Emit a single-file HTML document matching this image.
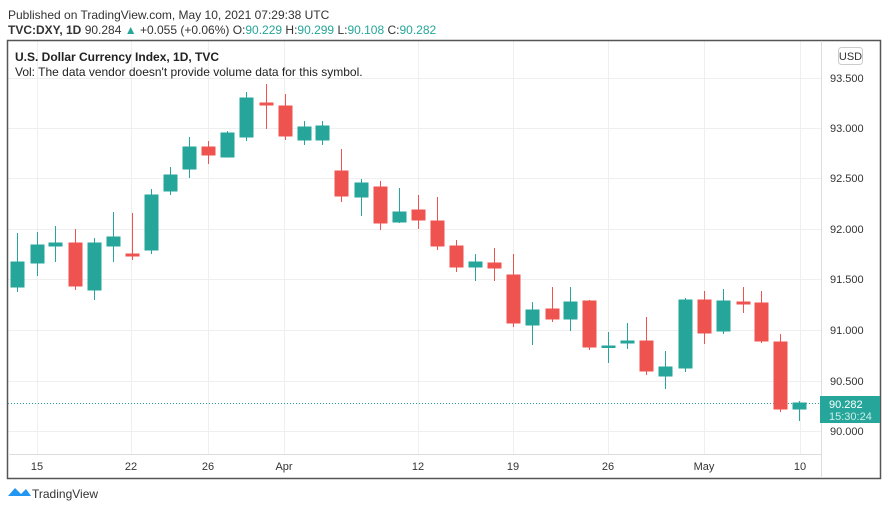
<!DOCTYPE html>
<html><head><meta charset="utf-8"><style>
body{margin:0;background:#fff;width:892px;height:503px;overflow:hidden;font-family:"Liberation Sans",sans-serif}
</style></head><body>
<svg width="892" height="503" xmlns="http://www.w3.org/2000/svg" font-family="Liberation Sans, sans-serif">
<rect width="892" height="503" fill="#fff"/>
<text x="8" y="19" font-size="12" fill="#333">Published on TradingView.com, May 10, 2021 07:29:38 UTC</text>
<text x="8" y="34" font-size="12" fill="#333"><tspan font-weight="bold">TVC:DXY, 1D</tspan> 90.284 <tspan fill="#26a69a">▲</tspan> +0.055 (+0.06%) O:<tspan fill="#26a69a">90.229</tspan> H:<tspan fill="#26a69a">90.299</tspan> L:<tspan fill="#26a69a">90.108</tspan> C:<tspan fill="#26a69a">90.282</tspan></text>
<g stroke="#efefef" stroke-width="1">
<line x1="8" y1="78.5" x2="821" y2="78.5"/><line x1="8" y1="128.5" x2="821" y2="128.5"/><line x1="8" y1="178.5" x2="821" y2="178.5"/><line x1="8" y1="229.5" x2="821" y2="229.5"/><line x1="8" y1="279.5" x2="821" y2="279.5"/><line x1="8" y1="330.5" x2="821" y2="330.5"/><line x1="8" y1="381.5" x2="821" y2="381.5"/><line x1="8" y1="431.5" x2="821" y2="431.5"/>
<line x1="37.5" y1="41" x2="37.5" y2="454"/><line x1="131.5" y1="41" x2="131.5" y2="454"/><line x1="208.5" y1="41" x2="208.5" y2="454"/><line x1="284.5" y1="41" x2="284.5" y2="454"/><line x1="418.5" y1="41" x2="418.5" y2="454"/><line x1="513.5" y1="41" x2="513.5" y2="454"/><line x1="608.5" y1="41" x2="608.5" y2="454"/><line x1="704.5" y1="41" x2="704.5" y2="454"/><line x1="800.5" y1="41" x2="800.5" y2="454"/>
</g>
<rect x="7.5" y="40.5" width="873" height="438" fill="none" stroke="#555" stroke-width="1.5"/>
<line x1="821.5" y1="41" x2="821.5" y2="478" stroke="#ddd"/>
<line x1="8" y1="454.5" x2="821" y2="454.5" stroke="#ddd"/>
<text x="15" y="61" font-size="12" font-weight="bold" fill="#222">U.S. Dollar Currency Index, 1D, TVC</text>
<text x="15" y="76" font-size="12" fill="#222">Vol: The data vendor doesn't provide volume data for this symbol.</text>
<rect x="838.5" y="47.5" width="24" height="17" rx="3" fill="#fff" stroke="#ccc"/>
<text x="850.5" y="60" font-size="11" fill="#333" text-anchor="middle">USD</text>
<g font-size="11" fill="#333">
<text x="830" y="82">93.500</text><text x="830" y="132">93.000</text><text x="830" y="182">92.500</text><text x="830" y="233">92.000</text><text x="830" y="283">91.500</text><text x="830" y="334">91.000</text><text x="830" y="385">90.500</text><text x="830" y="435">90.000</text>
</g>
<g font-size="11" fill="#333" text-anchor="middle">
<text x="37" y="470">15</text><text x="131" y="470">22</text><text x="208" y="470">26</text><text x="284" y="470">Apr</text><text x="418" y="470">12</text><text x="513" y="470">19</text><text x="608" y="470">26</text><text x="704" y="470">May</text><text x="800" y="470">10</text>
</g>
<line x1="8" y1="403.5" x2="821" y2="403.5" stroke="#26a69a" stroke-dasharray="1,2"/>
<g id="c">
<g stroke="#26a69a" fill="#26a69a">
<line x1="17.5" y1="233" x2="17.5" y2="292"/><rect x="11" y="262" width="13" height="25"/>
<line x1="37.5" y1="232" x2="37.5" y2="276"/><rect x="31" y="245" width="13" height="18"/>
<line x1="55.5" y1="226" x2="55.5" y2="262"/><rect x="49" y="243" width="13" height="3"/>
<line x1="94.5" y1="238" x2="94.5" y2="300"/><rect x="88" y="243" width="13" height="47"/>
<line x1="113.5" y1="212" x2="113.5" y2="262"/><rect x="107" y="237" width="13" height="9"/>
<line x1="151.5" y1="189" x2="151.5" y2="254"/><rect x="145" y="195" width="13" height="55"/>
<line x1="170.5" y1="167" x2="170.5" y2="195"/><rect x="164" y="175" width="13" height="16"/>
<line x1="189.5" y1="137" x2="189.5" y2="178"/><rect x="183" y="147" width="13" height="22"/>
<line x1="227.5" y1="131" x2="227.5" y2="157"/><rect x="221" y="133" width="13" height="24"/>
<line x1="246.5" y1="92" x2="246.5" y2="141"/><rect x="240" y="98" width="13" height="39"/>
<line x1="304.5" y1="121" x2="304.5" y2="145"/><rect x="298" y="127" width="13" height="13"/>
<line x1="322.5" y1="121" x2="322.5" y2="145"/><rect x="316" y="126" width="13" height="14"/>
<line x1="361.5" y1="179" x2="361.5" y2="216"/><rect x="355" y="183" width="13" height="14"/>
<line x1="399.5" y1="188" x2="399.5" y2="223"/><rect x="393" y="212" width="13" height="10"/>
<line x1="475.5" y1="254" x2="475.5" y2="281"/><rect x="469" y="262" width="13" height="5"/>
<line x1="532.5" y1="302" x2="532.5" y2="345"/><rect x="526" y="310" width="13" height="15"/>
<line x1="570.5" y1="287" x2="570.5" y2="331"/><rect x="564" y="302" width="13" height="17"/>
<line x1="608.5" y1="332" x2="608.5" y2="363"/><rect x="602" y="346" width="13" height="1.5"/>
<line x1="627.5" y1="323" x2="627.5" y2="349"/><rect x="621" y="341" width="13" height="2"/>
<line x1="665.5" y1="351" x2="665.5" y2="389"/><rect x="659" y="367" width="13" height="9"/>
<line x1="685.5" y1="298" x2="685.5" y2="372"/><rect x="679" y="300" width="13" height="68"/>
<line x1="723.5" y1="289" x2="723.5" y2="334"/><rect x="717" y="301" width="13" height="30"/>
<line x1="799.5" y1="401" x2="799.5" y2="421"/><rect x="793" y="403" width="13" height="6"/>
</g>
<g stroke="#ef5350" fill="#ef5350">
<line x1="75.5" y1="229" x2="75.5" y2="290"/><rect x="69" y="243" width="13" height="43"/>
<line x1="132.5" y1="213" x2="132.5" y2="260"/><rect x="126" y="254" width="13" height="2"/>
<line x1="208.5" y1="141" x2="208.5" y2="164"/><rect x="202" y="147" width="13" height="8"/>
<line x1="266.5" y1="84" x2="266.5" y2="129"/><rect x="260" y="103" width="13" height="2"/>
<line x1="285.5" y1="94" x2="285.5" y2="140"/><rect x="279" y="106" width="13" height="30"/>
<line x1="341.5" y1="149" x2="341.5" y2="202"/><rect x="335" y="171" width="13" height="25"/>
<line x1="380.5" y1="181" x2="380.5" y2="230"/><rect x="374" y="187" width="13" height="36"/>
<line x1="418.5" y1="195" x2="418.5" y2="229"/><rect x="412" y="210" width="13" height="10"/>
<line x1="437.5" y1="197" x2="437.5" y2="250"/><rect x="431" y="221" width="13" height="25"/>
<line x1="456.5" y1="240" x2="456.5" y2="272"/><rect x="450" y="246" width="13" height="21"/>
<line x1="494.5" y1="248" x2="494.5" y2="281"/><rect x="488" y="263" width="13" height="5"/>
<line x1="513.5" y1="254" x2="513.5" y2="327"/><rect x="507" y="275" width="13" height="48"/>
<line x1="552.5" y1="287" x2="552.5" y2="322"/><rect x="546" y="309" width="13" height="10"/>
<line x1="589.5" y1="300" x2="589.5" y2="350"/><rect x="583" y="301" width="13" height="46"/>
<line x1="646.5" y1="317" x2="646.5" y2="375"/><rect x="640" y="341" width="13" height="30"/>
<line x1="704.5" y1="291" x2="704.5" y2="344"/><rect x="698" y="300" width="13" height="33"/>
<line x1="743.5" y1="287" x2="743.5" y2="313"/><rect x="737" y="302" width="13" height="2"/>
<line x1="761.5" y1="291" x2="761.5" y2="343"/><rect x="755" y="303" width="13" height="38"/>
<line x1="780.5" y1="334" x2="780.5" y2="412"/><rect x="774" y="342" width="13" height="67"/>
</g>
</g>
<rect x="820" y="396" width="60" height="27" fill="#26a69a"/>
<text x="829" y="408" font-size="11" fill="#fff">90.282</text>
<text x="829" y="420" font-size="11" fill="#cdeeea">15:30:24</text>
<path d="M8 496 L15 488 L21 494 L26 489 L31 496 Z" fill="#2196f3"/>
<text x="32" y="498" font-size="12" fill="#333">TradingView</text>
</svg>
</body></html>
